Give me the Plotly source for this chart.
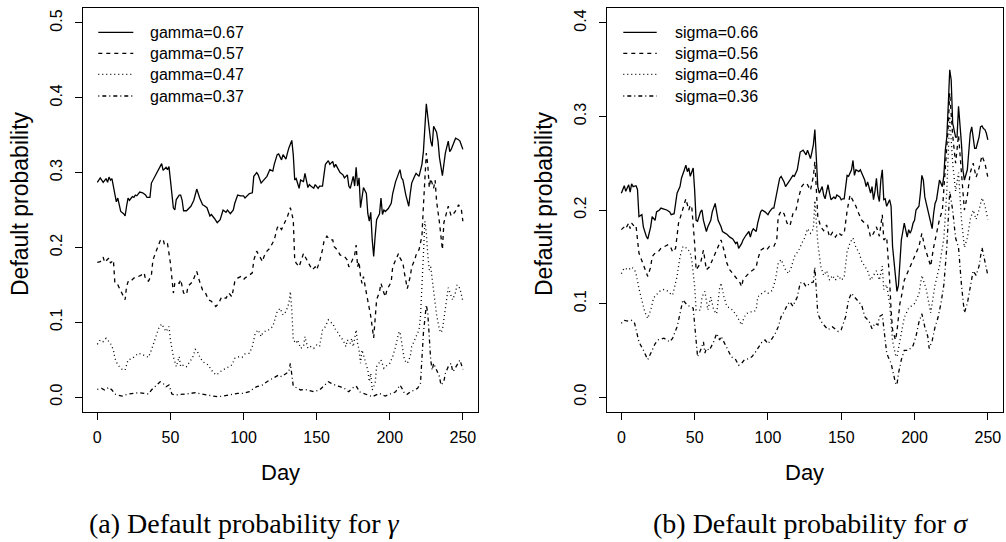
import plotly.graph_objects as go

# ---------------- data: default probability by day ----------------
# left panel: varying gamma
g067_day = [0,2,3,4,6,7,8,9,10,12,13,14,16,18,19,20,21,22,24,25,26,27,29,31,33,34,36,37,40,42,44,45,47,48,49,50,51,52,53,54,56,57,58,59,61,64,66,68,70,72,73,75,77,78,80,82,84,85,86,88,89,91,93,94,96,98,100,101,104,106,107,109,110,112,114,116,118,120,121,123,124,126,127,129,130,131,133,134,135,136,138,139,141,142,144,145,146,148,149,151,152,154,155,156,158,159,161,162,163,165,166,168,169,171,172,173,175,176,177,178,179,180,181,182,184,185,186,187,188,189,190,191,193,194,195,196,197,199,201,202,204,206,207,208,209,211,213,214,215,217,218,220,222,223,224,225,226,228,229,230,232,233,234,236,237,238,240,241,242,244,245,247,248,250]
g067_val = [0.287,0.293,0.290,0.287,0.292,0.287,0.294,0.290,0.292,0.273,0.261,0.266,0.248,0.245,0.242,0.255,0.266,0.263,0.268,0.267,0.270,0.269,0.274,0.273,0.270,0.267,0.267,0.286,0.297,0.306,0.312,0.303,0.307,0.304,0.308,0.290,0.270,0.253,0.250,0.264,0.270,0.270,0.263,0.249,0.249,0.255,0.263,0.278,0.266,0.257,0.256,0.253,0.242,0.244,0.239,0.233,0.237,0.244,0.250,0.247,0.250,0.245,0.250,0.259,0.270,0.269,0.269,0.266,0.272,0.273,0.295,0.300,0.297,0.286,0.290,0.295,0.304,0.302,0.311,0.324,0.325,0.317,0.324,0.318,0.326,0.333,0.343,0.324,0.290,0.292,0.279,0.290,0.288,0.299,0.280,0.284,0.282,0.279,0.284,0.279,0.282,0.282,0.297,0.311,0.316,0.311,0.315,0.307,0.311,0.304,0.300,0.297,0.293,0.297,0.282,0.279,0.295,0.282,0.307,0.282,0.293,0.253,0.270,0.280,0.272,0.245,0.235,0.247,0.210,0.188,0.215,0.237,0.245,0.266,0.244,0.250,0.248,0.252,0.259,0.272,0.288,0.297,0.304,0.293,0.290,0.270,0.255,0.272,0.286,0.295,0.299,0.295,0.311,0.328,0.371,0.392,0.375,0.342,0.335,0.362,0.354,0.342,0.320,0.296,0.311,0.326,0.342,0.328,0.331,0.340,0.346,0.344,0.342,0.331]

g057_day = [0,2,4,5,8,9,11,12,14,17,19,20,21,22,25,27,28,30,32,33,35,37,38,41,43,45,46,48,50,52,53,54,56,57,59,61,62,65,67,68,70,72,74,76,78,81,83,85,88,90,92,94,96,98,100,101,104,106,107,109,111,113,114,116,118,121,123,124,126,127,129,130,132,134,135,136,138,139,141,142,144,145,147,149,150,152,154,155,157,159,161,162,164,166,168,169,171,172,173,174,176,177,178,179,180,181,182,184,186,187,189,190,191,193,194,196,197,198,201,202,204,206,207,209,210,211,212,214,215,217,218,220,222,223,224,225,226,227,228,230,231,232,234,236,237,239,240,242,244,246,247,249,250]
g057_val = [0.180,0.181,0.187,0.180,0.186,0.179,0.183,0.152,0.150,0.139,0.130,0.148,0.154,0.153,0.159,0.161,0.161,0.163,0.166,0.157,0.155,0.163,0.183,0.199,0.209,0.211,0.203,0.205,0.179,0.139,0.152,0.154,0.152,0.157,0.139,0.137,0.148,0.154,0.163,0.168,0.154,0.143,0.139,0.130,0.128,0.121,0.125,0.134,0.132,0.139,0.134,0.154,0.159,0.161,0.157,0.159,0.163,0.166,0.183,0.195,0.188,0.181,0.188,0.195,0.199,0.210,0.226,0.229,0.224,0.228,0.235,0.241,0.253,0.237,0.183,0.179,0.174,0.181,0.192,0.188,0.179,0.177,0.170,0.174,0.170,0.181,0.197,0.208,0.215,0.210,0.210,0.201,0.197,0.190,0.188,0.188,0.183,0.174,0.177,0.181,0.190,0.203,0.174,0.181,0.161,0.152,0.161,0.139,0.116,0.108,0.079,0.103,0.130,0.141,0.152,0.139,0.134,0.143,0.154,0.174,0.183,0.192,0.186,0.179,0.166,0.152,0.145,0.161,0.174,0.183,0.190,0.197,0.215,0.255,0.300,0.326,0.310,0.280,0.292,0.279,0.290,0.262,0.233,0.197,0.233,0.246,0.255,0.242,0.246,0.252,0.257,0.250,0.235]

g047_day = [0,2,4,6,9,11,12,14,17,19,21,24,26,28,30,33,35,37,40,42,44,46,47,49,50,52,54,56,57,59,61,64,65,67,68,70,72,74,76,78,81,83,85,88,90,92,94,97,99,101,104,106,108,110,112,113,116,117,120,122,123,125,127,129,131,132,133,134,136,137,139,141,142,144,146,148,150,152,153,154,156,158,160,161,163,165,166,168,170,171,173,174,175,177,178,179,180,181,182,184,185,186,187,188,190,191,193,194,196,197,200,202,204,206,207,209,210,212,214,215,218,220,221,222,223,224,225,226,227,228,230,232,234,235,236,238,240,242,243,245,246,248,250]
g047_val = [0.0705,0.0763,0.0741,0.0785,0.0718,0.0629,0.0518,0.0428,0.0370,0.0361,0.0495,0.0518,0.0549,0.0585,0.0576,0.0549,0.0531,0.0629,0.0808,0.0919,0.0977,0.0919,0.0875,0.0942,0.0763,0.0540,0.0406,0.0540,0.0406,0.0428,0.0406,0.0495,0.0518,0.0638,0.0629,0.0540,0.0473,0.0451,0.0428,0.0361,0.0295,0.0317,0.0353,0.0384,0.0406,0.0428,0.0518,0.0540,0.0531,0.0576,0.0585,0.0674,0.0852,0.0897,0.0808,0.0852,0.0897,0.0897,0.0942,0.1075,0.1142,0.1187,0.1098,0.1142,0.1254,0.1410,0.1165,0.0763,0.0718,0.0763,0.0651,0.0674,0.0808,0.0651,0.0674,0.0651,0.0696,0.0674,0.0763,0.0897,0.0942,0.1031,0.0995,0.0986,0.0897,0.0852,0.0808,0.0763,0.0674,0.0763,0.0718,0.0785,0.0674,0.0897,0.0718,0.0629,0.0451,0.0629,0.0562,0.0428,0.0361,0.0205,0.0317,0.0094,0.0183,0.0406,0.0473,0.0495,0.0384,0.0406,0.0451,0.0540,0.0674,0.0852,0.0875,0.0629,0.0495,0.0451,0.0540,0.0674,0.0808,0.0897,0.1075,0.1432,0.190,0.235,0.220,0.190,0.170,0.174,0.140,0.110,0.090,0.086,0.090,0.120,0.146,0.135,0.130,0.140,0.150,0.145,0.128]

g037_day = [0,3,5,8,10,12,14,17,19,21,25,28,32,35,37,41,43,45,47,49,51,53,57,60,64,67,69,72,75,78,82,86,91,96,100,104,107,109,113,116,120,122,124,126,129,131,132,133,134,137,139,142,145,148,152,154,156,158,160,162,164,166,169,170,172,174,176,177,178,179,181,182,184,186,188,190,193,195,197,200,202,204,206,207,209,210,212,214,217,219,221,222,223,225,226,227,228,229,230,232,234,235,237,238,240,242,243,244,246,248,250]
g037_val = [0.0103,0.0116,0.0094,0.0129,0.0094,0.0040,0.0027,0.0013,0.0027,0.0040,0.0049,0.0058,0.0049,0.0040,0.0094,0.0161,0.0205,0.0183,0.0138,0.0161,0.0040,0.0027,0.0040,0.0040,0.0049,0.0058,0.0049,0.0040,0.0027,0.0018,0.0004,0.0013,0.0027,0.0049,0.0049,0.0071,0.0116,0.0138,0.0161,0.0205,0.0250,0.0272,0.0295,0.0272,0.0317,0.0339,0.0451,0.0317,0.0147,0.0116,0.0094,0.0103,0.0085,0.0071,0.0094,0.0129,0.0161,0.0205,0.0183,0.0161,0.0147,0.0138,0.0116,0.0094,0.0071,0.0116,0.0138,0.0147,0.0116,0.0071,0.0058,0.0049,0.0040,0.0013,0.0004,0.0022,0.0049,0.0027,0.0013,0.0040,0.0049,0.0071,0.0138,0.0161,0.0094,0.0049,0.0036,0.0071,0.0094,0.0116,0.0183,0.0451,0.0852,0.1232,0.1120,0.0808,0.0495,0.0361,0.0451,0.0361,0.0272,0.0161,0.0205,0.0317,0.0406,0.0451,0.0339,0.0361,0.0428,0.0495,0.037]

# right panel: varying sigma
s066_day = [0,2,3,5,6,7,8,10,11,12,14,15,17,18,20,21,23,24,26,27,29,31,33,34,36,38,40,41,43,44,45,46,47,49,50,51,52,54,55,56,58,59,61,62,64,65,66,68,69,71,72,74,75,76,78,79,80,82,83,84,85,87,88,89,90,92,93,95,96,98,100,101,103,104,106,108,109,111,112,114,115,117,118,120,121,122,124,125,126,127,129,130,131,132,133,134,135,137,138,139,140,141,142,143,145,146,147,148,149,150,151,152,154,155,157,158,159,160,162,163,165,166,167,168,170,171,172,173,174,175,176,177,178,179,180,181,183,184,185,186,187,188,189,190,191,192,193,195,196,197,198,199,200,201,203,204,205,206,207,208,209,211,212,213,214,215,216,217,219,220,221,222,223,224,225,226,228,229,230,231,232,233,234,236,237,238,239,240,241,242,244,245,246,247,248,249,250]
s066_val = [0.218,0.226,0.220,0.227,0.219,0.228,0.225,0.226,0.222,0.193,0.195,0.182,0.172,0.169,0.182,0.193,0.189,0.198,0.200,0.202,0.201,0.200,0.198,0.195,0.196,0.218,0.225,0.234,0.243,0.248,0.241,0.245,0.236,0.245,0.221,0.189,0.188,0.198,0.200,0.189,0.177,0.182,0.189,0.198,0.207,0.196,0.189,0.182,0.177,0.175,0.174,0.171,0.170,0.169,0.164,0.166,0.159,0.164,0.168,0.171,0.173,0.177,0.171,0.177,0.180,0.177,0.186,0.198,0.200,0.198,0.195,0.198,0.202,0.202,0.218,0.234,0.236,0.230,0.225,0.229,0.232,0.237,0.236,0.243,0.253,0.262,0.264,0.261,0.259,0.264,0.255,0.262,0.270,0.286,0.246,0.225,0.218,0.225,0.216,0.212,0.220,0.227,0.218,0.211,0.214,0.212,0.216,0.215,0.214,0.211,0.212,0.212,0.237,0.236,0.243,0.253,0.237,0.243,0.241,0.243,0.236,0.232,0.225,0.230,0.218,0.225,0.211,0.220,0.234,0.216,0.209,0.232,0.243,0.211,0.212,0.204,0.211,0.204,0.161,0.143,0.122,0.113,0.119,0.147,0.168,0.177,0.186,0.171,0.179,0.175,0.179,0.186,0.189,0.200,0.204,0.218,0.237,0.232,0.214,0.207,0.200,0.186,0.180,0.196,0.207,0.211,0.221,0.232,0.225,0.237,0.264,0.278,0.312,0.350,0.339,0.293,0.278,0.278,0.311,0.293,0.271,0.243,0.232,0.243,0.264,0.282,0.289,0.278,0.266,0.266,0.278,0.289,0.290,0.287,0.286,0.282,0.275]

s056_day = [0,2,3,5,6,7,9,10,12,14,16,18,20,21,23,25,27,30,32,34,35,37,38,39,41,43,44,46,47,48,49,50,51,54,56,57,58,60,63,65,67,68,70,72,74,76,79,81,82,83,85,88,90,92,93,95,97,99,101,104,106,107,109,111,113,115,117,119,121,123,125,127,129,131,132,133,134,136,138,140,142,144,146,148,150,152,154,156,158,160,162,164,166,168,170,172,174,176,178,179,181,182,183,184,185,187,188,190,191,193,196,198,200,203,205,207,209,211,213,215,217,219,221,223,224,226,228,230,232,234,236,238,240,242,244,246,248,250]
s056_val = [0.179,0.182,0.180,0.186,0.180,0.186,0.182,0.183,0.154,0.145,0.136,0.129,0.139,0.150,0.154,0.155,0.159,0.161,0.163,0.159,0.155,0.159,0.171,0.186,0.196,0.207,0.212,0.200,0.205,0.204,0.186,0.164,0.136,0.143,0.157,0.147,0.136,0.139,0.150,0.157,0.164,0.168,0.157,0.143,0.136,0.132,0.127,0.122,0.118,0.125,0.129,0.134,0.136,0.139,0.147,0.157,0.159,0.157,0.161,0.161,0.168,0.193,0.199,0.196,0.186,0.183,0.196,0.199,0.214,0.225,0.229,0.227,0.221,0.236,0.252,0.220,0.193,0.182,0.178,0.184,0.171,0.176,0.171,0.176,0.173,0.175,0.199,0.216,0.210,0.204,0.196,0.189,0.186,0.184,0.171,0.175,0.182,0.172,0.195,0.168,0.171,0.150,0.125,0.093,0.072,0.061,0.070,0.100,0.107,0.125,0.136,0.143,0.150,0.161,0.175,0.160,0.150,0.140,0.160,0.175,0.190,0.200,0.240,0.290,0.325,0.280,0.250,0.280,0.240,0.200,0.215,0.240,0.250,0.235,0.245,0.258,0.250,0.235]

s046_day = [0,2,5,7,9,10,12,14,16,18,20,22,24,26,29,31,33,35,38,40,42,45,47,48,50,51,54,55,57,58,59,61,63,65,67,68,70,72,74,76,79,81,82,83,85,88,90,92,93,96,98,100,103,105,107,109,112,114,116,118,121,123,125,127,129,131,132,134,136,138,140,142,144,146,148,150,152,154,156,158,160,162,164,166,168,170,172,174,176,178,179,181,183,185,187,188,190,193,196,200,203,205,208,211,214,217,220,222,224,226,228,230,232,234,236,238,240,242,244,246,248,250]
s046_val = [0.132,0.138,0.136,0.139,0.136,0.132,0.116,0.104,0.091,0.084,0.093,0.106,0.109,0.113,0.115,0.114,0.111,0.109,0.129,0.150,0.161,0.159,0.154,0.147,0.118,0.093,0.093,0.107,0.113,0.104,0.093,0.107,0.093,0.089,0.116,0.122,0.107,0.097,0.095,0.093,0.086,0.079,0.077,0.082,0.089,0.091,0.091,0.093,0.107,0.111,0.113,0.111,0.114,0.125,0.143,0.147,0.136,0.132,0.139,0.150,0.157,0.164,0.170,0.180,0.175,0.180,0.210,0.165,0.140,0.130,0.135,0.125,0.130,0.125,0.130,0.125,0.128,0.155,0.165,0.170,0.160,0.155,0.145,0.140,0.135,0.125,0.130,0.135,0.125,0.140,0.115,0.120,0.100,0.060,0.045,0.043,0.060,0.085,0.095,0.100,0.110,0.130,0.115,0.090,0.120,0.140,0.170,0.220,0.300,0.250,0.220,0.240,0.190,0.160,0.170,0.190,0.200,0.190,0.200,0.213,0.205,0.190]

s036_day = [0,2,5,7,9,12,15,18,21,23,25,29,31,33,35,38,40,42,45,47,49,51,52,54,56,57,58,60,63,65,67,68,71,73,75,78,80,82,84,87,89,91,93,96,98,100,103,105,107,109,111,113,115,117,120,122,124,126,129,131,132,134,137,139,141,144,146,148,150,153,155,157,159,162,164,166,169,171,173,175,176,178,179,180,181,182,183,184,186,187,188,189,191,193,196,199,201,203,205,207,209,210,212,214,216,218,220,222,224,226,228,230,232,234,236,238,240,242,244,246,248,250]
s036_val = [0.079,0.082,0.081,0.082,0.079,0.059,0.050,0.040,0.050,0.057,0.061,0.063,0.061,0.059,0.063,0.075,0.089,0.104,0.098,0.097,0.095,0.065,0.043,0.050,0.059,0.047,0.052,0.050,0.059,0.068,0.061,0.065,0.056,0.050,0.043,0.040,0.034,0.036,0.040,0.041,0.043,0.047,0.052,0.059,0.061,0.057,0.063,0.068,0.075,0.086,0.091,0.098,0.102,0.097,0.107,0.122,0.123,0.118,0.122,0.123,0.139,0.089,0.079,0.075,0.072,0.075,0.072,0.070,0.072,0.086,0.104,0.111,0.107,0.102,0.098,0.086,0.081,0.073,0.079,0.077,0.086,0.088,0.072,0.061,0.047,0.043,0.040,0.036,0.022,0.015,0.013,0.025,0.040,0.050,0.050,0.055,0.065,0.080,0.089,0.075,0.065,0.052,0.060,0.075,0.085,0.100,0.120,0.160,0.220,0.200,0.170,0.160,0.120,0.090,0.100,0.120,0.135,0.130,0.140,0.160,0.145,0.130]

gamma_labels = ["gamma=0.67", "gamma=0.57", "gamma=0.47", "gamma=0.37"]
sigma_labels = ["sigma=0.66", "sigma=0.56", "sigma=0.46", "sigma=0.36"]
day_ticks = [0, 50, 100, 150, 200, 250]
gamma_ticks = [0.0, 0.1, 0.2, 0.3, 0.4, 0.5]
sigma_ticks = [0.0, 0.1, 0.2, 0.3, 0.4]

# ---------------- styling ----------------
W, H = 1006, 542
SANS = "Liberation Sans, Arial, sans-serif"
SERIF = "Liberation Serif, Times New Roman, serif"
DASHES = ["solid", "4px,4px", "1px,3px", "1px,3px,4px,3px"]
LW = 1.3

def px(x):
    return x / W

def py(y):
    return 1 - y / H

fig = go.Figure()

left_series = [(g067_day, g067_val), (g057_day, g057_val), (g047_day, g047_val), (g037_day, g037_val)]
right_series = [(s066_day, s066_val), (s056_day, s056_val), (s046_day, s046_val), (s036_day, s036_val)]

for (d, v), dash, name in zip(left_series, DASHES, gamma_labels):
    fig.add_trace(go.Scatter(x=d, y=v, mode="lines", name=name, showlegend=False,
                             line=dict(color="black", width=LW, dash=dash),
                             xaxis="x", yaxis="y", hoverinfo="skip"))
for (d, v), dash, name in zip(right_series, DASHES, sigma_labels):
    fig.add_trace(go.Scatter(x=d, y=v, mode="lines", name=name, showlegend=False,
                             line=dict(color="black", width=LW, dash=dash),
                             xaxis="x2", yaxis="y2", hoverinfo="skip"))

# panel boxes (pixel positions)
L_BOX = (82.7, 477.5)
R_BOX = (606.7, 1002.5)
TOP, BOT = 8, 412

axis_common = dict(showline=True, mirror=True, linecolor="black", linewidth=1,
                   ticks="outside", ticklen=7, tickwidth=1, tickcolor="black",
                   showgrid=False, zeroline=False,
                   tickfont=dict(family=SANS, size=16, color="black"))

fig.update_layout(
    width=W, height=H, autosize=False,
    margin=dict(l=0, r=0, t=0, b=0),
    paper_bgcolor="white", plot_bgcolor="white",
    xaxis=dict(domain=[px(L_BOX[0]), px(L_BOX[1])], range=[-10, 260], anchor="y",
               tickvals=day_ticks, ticklabelstandoff=4, **axis_common),
    yaxis=dict(domain=[py(BOT), py(TOP)], range=[-0.02, 0.52], anchor="x",
               tickvals=gamma_ticks, ticktext=[f"{t:.1f}" for t in gamma_ticks],
               tickangle=-90, ticklabelstandoff=6, **axis_common),
    xaxis2=dict(domain=[px(R_BOX[0]), px(R_BOX[1])], range=[-10, 260], anchor="y2",
                tickvals=day_ticks, ticklabelstandoff=4, **axis_common),
    yaxis2=dict(domain=[py(BOT), py(TOP)], range=[-0.016, 0.416], anchor="x2",
                tickvals=sigma_ticks, ticktext=[f"{t:.1f}" for t in sigma_ticks],
                tickangle=-90, ticklabelstandoff=6, **axis_common),
)

shapes = []
annotations = []

# legends drawn in the top-left corner of each panel
ROWS = [32.3, 53.3, 74.3, 96.0]
for (x0, x1, xt), labels in [((98.3, 133.3, 148.3), gamma_labels),
                             ((623.3, 656.7, 673.3), sigma_labels)]:
    for yy, dash, lab in zip(ROWS, DASHES, labels):
        shapes.append(dict(type="line", xref="paper", yref="paper",
                           x0=px(x0), x1=px(x1), y0=py(yy), y1=py(yy),
                           line=dict(color="black", width=LW, dash=dash)))
        annotations.append(dict(text=lab, xref="paper", yref="paper",
                                x=px(xt), y=py(yy), xanchor="left", yanchor="middle",
                                showarrow=False, font=dict(family=SANS, size=16, color="black")))

# axis titles
for cx in [(L_BOX[0] + L_BOX[1]) / 2, (R_BOX[0] + R_BOX[1]) / 2]:
    annotations.append(dict(text="Day", xref="paper", yref="paper", x=px(cx), y=py(472),
                            xanchor="center", yanchor="middle", showarrow=False,
                            font=dict(family=SANS, size=22, color="black")))
for cx in [20, 544]:
    annotations.append(dict(text="Default probability", xref="paper", yref="paper",
                            x=px(cx), y=py(204), xanchor="center", yanchor="middle",
                            textangle=-90, showarrow=False,
                            font=dict(family=SANS, size=23, color="black")))

# captions under each panel
for cx, txt in [(244, "(a) Default probability for <i>γ</i>"),
                (810, "(b) Default probability for <i>σ</i>")]:
    annotations.append(dict(text=txt, xref="paper", yref="paper", x=px(cx), y=py(523),
                            xanchor="center", yanchor="middle", showarrow=False,
                            font=dict(family=SERIF, size=28, color="black")))

fig.update_layout(shapes=shapes, annotations=annotations)
fig.write_html("out.html")
